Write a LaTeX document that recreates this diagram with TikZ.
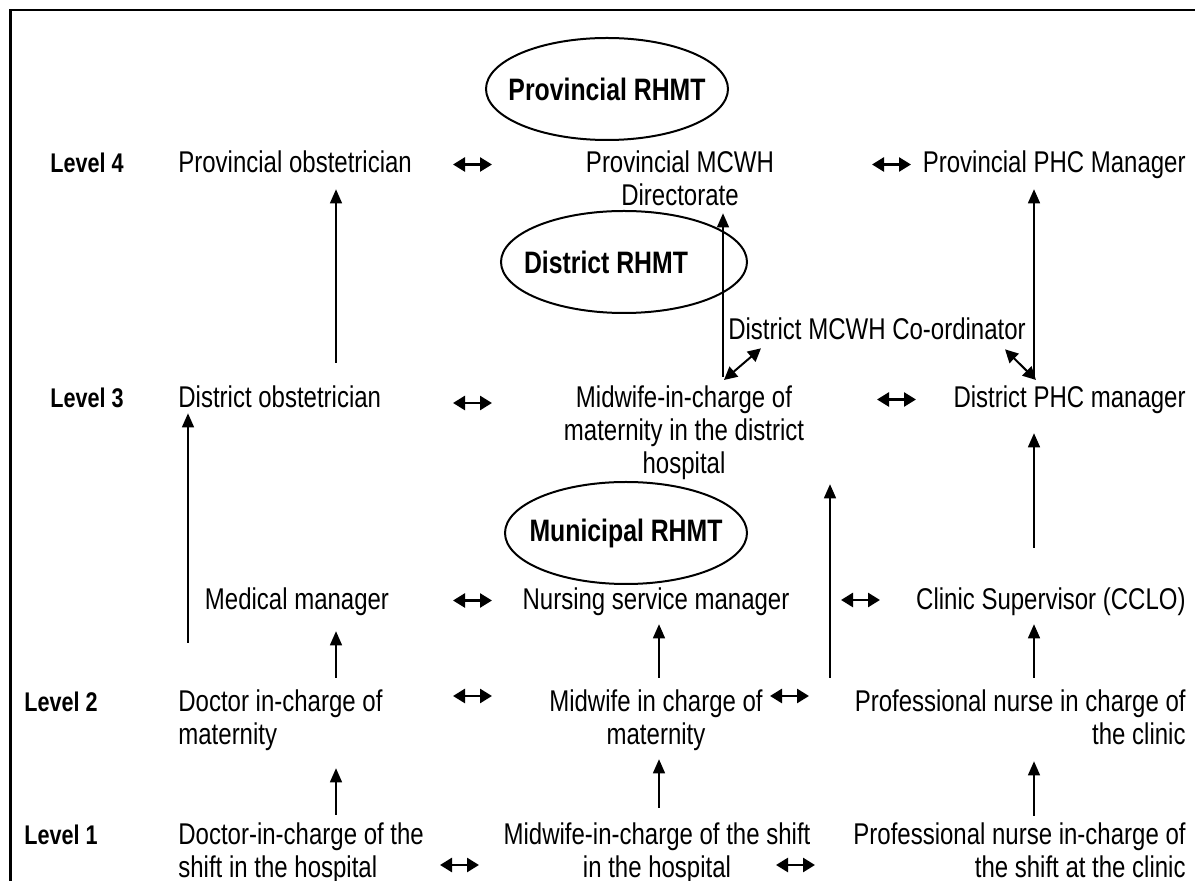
\documentclass[tikz,border=0pt]{standalone}
\usepackage{fontspec}
\setmainfont{Liberation Sans}[FakeStretch=0.8]
\usetikzlibrary{arrows.meta,shapes.geometric,calc}

\begin{document}
\begin{tikzpicture}[
  x=0.5pt,y=-0.5pt,
  every node/.style={inner sep=0pt,font=\fontsize{15}{16.5}\selectfont},
  lvl/.style={anchor=north west,font=\fontsize{13.5}{16}\selectfont\bfseries},
  rhmtfont/.style={font=\fontsize{15.5}{18}\selectfont\bfseries},
  rhmt/.style={draw,ellipse,line width=1pt,inner xsep=-8pt,minimum width=121pt,
               minimum height=51pt,rhmtfont},
  climb/.style={-{Triangle[length=7pt,width=6pt]},line width=0.7pt},
  peer/.style={{Triangle[length=6pt,width=7pt]}-{Triangle[length=6pt,width=7pt]},
               line width=1.3pt},
  liaise/.style={{Triangle[length=6.5pt,width=6.5pt]}-{Triangle[length=6.5pt,width=6.5pt]},
               line width=1pt}
]
\useasboundingbox (0,0) rectangle (1195,881);
\draw[line width=1.4pt] (10.5,881) |- (1195,10);

% columns of the upward links
\coordinate (colLL) at (188,0);
\coordinate (colL)  at (336,0);
\coordinate (colM)  at (659,0);
\coordinate (colMM) at (723,0);
\coordinate (colMR) at (830,0);
\coordinate (colR)  at (1034,0);

% teams
\node[rhmt] (provrhmt) at (607,89) {Provincial RHMT};
\node[rhmt,minimum width=123pt,
      label={[rhmtfont,xshift=-9pt]center:District RHMT}] (distrhmt) at (624,262) {};
\node[rhmt] (munrhmt) at (626,533) {Municipal RHMT};

% level 4
\node[lvl] (lvfour) at (50,152.7) {Level 4};
\node[anchor=north west] (provobs) at (178,150.5) {Provincial obstetrician};
\node[anchor=north,align=center] (provmcwh) at (680,150.5) {Provincial MCWH\\Directorate};
\node[anchor=north east] (provphc) at (1186,150.5) {Provincial PHC Manager};

% level 3
\node[anchor=north] (distmcwh) at (877,317.5) {District MCWH Co-ordinator};
\node[lvl] (lvthree) at (50,387.7) {Level 3};
\node[anchor=north west] (distobs) at (178,385.5) {District obstetrician};
\node[anchor=north,align=center] (midwdist) at (684,385.5)
   {Midwife-in-charge of\\maternity in the district\\hospital};
\node[anchor=north east] (distphc) at (1186,385.5) {District PHC manager};

% managers
\node[anchor=north] (medman) at (297,587.5) {Medical manager};
\node[anchor=north] (nursman) at (656,587.5) {Nursing service manager};
\node[anchor=north east] (clinsup) at (1186,587.5) {Clinic Supervisor (CCLO)};

% level 2
\node[lvl] (lvtwo) at (24,691.7) {Level 2};
\node[anchor=north west,align=left] (docmat) at (178,689.5) {Doctor in-charge of\\maternity};
\node[anchor=north,align=center] (midwmat) at (656,689.5) {Midwife in charge of\\maternity};
\node[anchor=north east,align=right] (pnclinic) at (1186,689.5)
   {Professional nurse in charge of\\the clinic};

% level 1
\node[lvl] (lvone) at (24,824.7) {Level 1};
\node[anchor=north west,align=left] (docshift) at (178,822.5)
   {Doctor-in-charge of the\\shift in the hospital};
\node[anchor=north,align=center] (midwshift) at (657,822.5)
   {Midwife-in-charge of the shift\\in the hospital};
\node[anchor=north east,align=right] (pnshift) at (1186,822.5)
   {Professional nurse in-charge of\\the shift at the clinic};

% reporting lines
\draw[climb,shorten <=11.25pt,shorten >=8pt] (colL |- distobs.north) -- (colL |- provobs.south);
\draw[climb,shorten <=4.25pt,shorten >=3.5pt] (colMM |- midwdist.north) -- (colMM |- provmcwh.south);
\draw[climb,shorten <=3.75pt,shorten >=5pt] (colR |- distphc.north) -- (colR |- provphc.south);
\draw[climb,shorten <=23.25pt,shorten >=2.5pt] (colLL |- docmat.north) -- (colLL |- distobs.south);
\draw[climb,shorten <=5.75pt,shorten >=2pt] (colMR |- midwmat.north) -- (colMR |- midwdist.south);
\draw[climb,shorten <=19.75pt,shorten >=9.5pt] (colR |- clinsup.north) -- (colR |- distphc.south);
\draw[climb,shorten <=5.75pt,shorten >=7.5pt] (colL |- docmat.north) -- (colL |- medman.south);
\draw[climb,shorten <=5.75pt,shorten >=4pt] (colM |- midwmat.north) -- (colM |- nursman.south);
\draw[climb,shorten <=5.75pt,shorten >=4pt] (colR |- pnclinic.north) -- (colR |- clinsup.south);
\draw[climb,shorten <=3.75pt,shorten >=8.5pt] (colL |- docshift.north) -- (colL |- docmat.south);
\draw[climb,shorten <=7.25pt,shorten >=4pt] (colM |- midwshift.north) -- (colM |- midwmat.south);
\draw[climb,shorten <=3.25pt,shorten >=8pt] (colR |- pnshift.north) -- (colR |- pnclinic.south);

% co-ordinator links
\draw[liaise] ($(midwdist.north)+(40,-5.5)$) -- ($(distmcwh.south)+(-116,8)$);
\draw[liaise] ($(distphc.north east)+(-150,-5.5)$) -- ($(distmcwh.south)+(128,9)$);

% peers on one level
\draw[peer] ($(provobs.north west)+(275,14)$) -- +(39,0);
\draw[peer] ($(provphc.north east)+(-314,14)$) -- +(39,0);
\draw[peer] ($(distobs.north west)+(275,17.5)$) -- +(39,0);
\draw[peer] ($(distphc.north east)+(-309,14)$) -- +(39,0);
\draw[peer] ($(medman.north)+(156,13)$) -- +(39,0);
\draw[peer] ($(clinsup.north east)+(-345,12.5)$) -- +(39,0);
\draw[peer] ($(docmat.north west)+(275,6.5)$) -- +(39,0);
\draw[peer] ($(pnclinic.north east)+(-416,6.5)$) -- +(39,0);
\draw[peer] ($(docshift.north west)+(262,42.5)$) -- +(39,0);
\draw[peer] ($(pnshift.north east)+(-410,42.5)$) -- +(39,0);
\end{tikzpicture}
\end{document}
